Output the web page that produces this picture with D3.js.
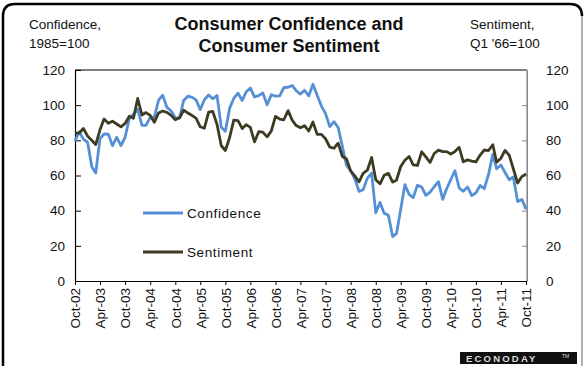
<!DOCTYPE html>
<html><head><meta charset="utf-8">
<script src="https://cdn.jsdelivr.net/npm/d3@7"></script>
<style>
body{margin:0;background:#fff;}
svg text{font-family:Arial,"Liberation Sans",sans-serif;}
</style></head>
<body><svg id="c" width="586" height="366"></svg>
<script>
const startMonth = "2002-10";
const confidence = [
79.6,84.9,80.7,
78.8,64.8,61.4,81.0,83.6,83.5,77.0,81.7,77.0,81.7,92.5,94.8,
97.7,88.5,88.5,93.0,93.1,102.8,105.7,98.7,96.7,92.9,92.6,102.7,
105.1,104.4,103.0,97.5,103.1,105.8,103.6,105.5,87.5,85.2,98.3,103.8,
106.8,102.7,107.5,109.8,104.7,105.4,107.0,100.2,105.9,105.1,105.3,110.0,
110.2,111.2,108.2,106.3,108.5,105.3,111.9,105.6,99.5,95.2,87.8,90.6,
87.3,76.4,65.9,62.8,58.1,51.0,51.9,58.5,61.4,38.8,44.7,38.6,
37.4,25.3,26.9,40.8,54.8,49.3,47.4,54.5,53.4,48.7,50.6,53.6,
56.5,46.4,52.3,57.7,62.7,52.9,51.0,53.5,48.6,50.2,54.3,52.5,
60.6,72.0,63.8,66.0,61.7,57.6,59.2,45.2,46.4,40.9];
const sentiment = [
84.0,84.2,86.7,
82.4,79.9,77.6,86.0,92.1,89.7,90.9,89.3,87.7,89.6,93.7,92.6,
103.8,94.4,95.8,94.2,90.2,95.6,96.7,95.9,94.2,91.7,92.8,97.1,
95.5,94.1,92.6,87.7,86.9,96.0,96.5,89.1,76.9,74.2,81.6,91.5,
91.2,86.7,88.9,87.4,79.1,84.9,84.7,82.0,85.4,93.6,92.1,91.7,
96.9,91.3,88.4,87.1,88.3,85.3,90.4,83.4,83.4,80.9,76.1,75.5,
78.4,70.8,69.5,62.6,59.8,56.4,61.2,63.0,70.3,57.6,55.3,60.1,
61.2,56.3,57.3,65.1,68.7,70.8,66.0,65.7,73.5,70.6,67.4,72.5,
74.4,73.6,73.6,72.2,73.6,76.0,67.8,68.9,68.2,67.7,71.6,74.5,
74.2,77.5,67.5,69.8,74.3,71.5,63.7,55.7,59.4,60.9];
const yTicks = [0,20,40,60,80,100,120];
const titleLines = ["Consumer Confidence and","Consumer Sentiment"];
const leftUnit = ["Confidence,","1985=100"];
const rightUnit = ["Sentiment,","Q1 '66=100"];
const seriesNames = ["Confidence","Sentiment"];
const colors = ["#5590d6","#3e3b23"];

const parse = d3.timeParse("%Y-%m");
const t0 = parse(startMonth);
const dates = confidence.map((_,i)=>d3.timeMonth.offset(t0,i));
const svg = d3.select("#c");

const L=75,R=527,T=70,B=281;
const x = d3.scaleTime().domain([dates[0], dates[dates.length-1]]).range([L,R-1]);
const y = d3.scaleLinear().domain([0,120]).range([B,T]);

// outer frame
svg.append("rect").attr("x",3).attr("y",4).attr("width",579).attr("height",372).attr("rx",12)
  .attr("fill","none").attr("stroke","#999").attr("stroke-width",1.5);
svg.append("path").attr("d","M3,376 L3,16 Q3,4 15,4 L570,4 Q582,4 582,16")
  .attr("fill","none").attr("stroke","#000").attr("stroke-width",2.5);

// titles
const tt = svg.append("text").attr("text-anchor","middle").attr("font-weight","bold").attr("font-size",18).attr("fill","#111");
titleLines.forEach((s,i)=>tt.append("tspan").attr("x",289).attr("y",30+i*22).text(s));
const lu = svg.append("text").attr("font-size",13.5).attr("fill","#111");
leftUnit.forEach((s,i)=>lu.append("tspan").attr("x",29).attr("y",29+i*19).text(s));
const ru = svg.append("text").attr("font-size",13.5).attr("fill","#111");
rightUnit.forEach((s,i)=>ru.append("tspan").attr("x",470).attr("y",29+i*19).text(s));

// plot frame
svg.append("line").attr("x1",L).attr("x2",R).attr("y1",T).attr("y2",T).attr("stroke","#000").attr("stroke-width",1.2);
svg.append("line").attr("x1",R).attr("x2",R).attr("y1",T).attr("y2",B).attr("stroke","#888").attr("stroke-width",1.2);

// axes
const gl = svg.append("g").attr("transform",`translate(${L},0)`)
  .call(d3.axisLeft(y).tickValues(yTicks).tickSizeInner(-6).tickSizeOuter(0).tickPadding(10));
const gr = svg.append("g").attr("transform",`translate(${R},0)`)
  .call(d3.axisRight(y).tickValues(yTicks).tickSizeInner(-5).tickSizeOuter(0).tickPadding(19));
gr.selectAll("line,path").attr("stroke","#888");
const xt = d3.timeMonth.range(dates[0], d3.timeMonth.offset(dates[dates.length-1],1), 6);
const gx = svg.append("g").attr("transform",`translate(0,${B})`)
  .call(d3.axisBottom(x).tickValues(xt).tickFormat(d3.timeFormat("%b-%y")).tickSizeInner(4).tickSizeOuter(0));
gx.selectAll("text").attr("transform","rotate(-90)").attr("text-anchor","end").attr("x",-7).attr("y",0).attr("dy","0.35em");
[gl,gr,gx].forEach(g=>{g.selectAll("text").attr("font-size",13.5).attr("fill","#111").attr("font-family","Arial,'Liberation Sans',sans-serif");});
gl.select("path").attr("stroke","#000").attr("stroke-width",1.2);
gx.select("path").attr("stroke","#000").attr("stroke-width",1.2);

// lines
const line = d3.line().x((d,i)=>x(dates[i])).y(d=>y(d));
[confidence, sentiment].forEach((s,k)=>{
  svg.append("path").datum(s).attr("d",line).attr("fill","none").attr("stroke",colors[k])
    .attr("stroke-width",2.8).attr("stroke-linejoin","round");
});

// legend
seriesNames.forEach((n,k)=>{
  const yy = 213 + k*39;
  svg.append("line").attr("x1",143).attr("x2",183).attr("y1",yy).attr("y2",yy).attr("stroke",colors[k]).attr("stroke-width",2.8);
  svg.append("text").attr("x",187).attr("y",yy).attr("dy","0.35em").attr("font-size",13.5).attr("letter-spacing","0.6px").attr("fill","#111").text(n);
});

// logo
svg.append("rect").attr("x",460).attr("y",352).attr("width",117).attr("height",12).attr("fill","#111");
svg.append("text").attr("x",466).attr("y",361.5).attr("font-size",9.5).attr("font-weight","bold").attr("letter-spacing","2.2px").attr("fill","#ddd").text("ECONODAY");
svg.append("text").attr("x",562).attr("y",358).attr("font-size",5).attr("fill","#ddd").text("TM");
</script></body></html>
